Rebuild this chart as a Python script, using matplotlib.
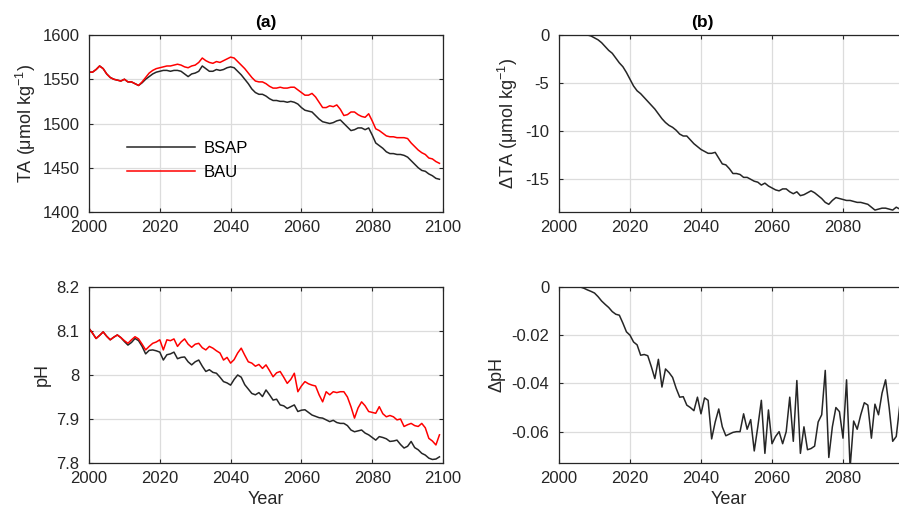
import numpy as np
import matplotlib
matplotlib.use("Agg")
import matplotlib.pyplot as plt
from matplotlib.ticker import FormatStrFormatter

plt.rcParams["font.family"] = ["Liberation Sans", "DejaVu Sans"]
plt.rcParams["mathtext.default"] = "regular"
plt.rcParams["axes.unicode_minus"] = False

# =================== data ===================
years = np.arange(2000, 2100)

ta_bau = [1558, 1558, 1561, 1565, 1562, 1556, 1552, 1550, 1549, 1548,
          1550, 1547, 1547, 1545, 1543, 1547, 1552, 1557, 1560, 1562,
          1563, 1564, 1565, 1565, 1566, 1567, 1566, 1564, 1563, 1565,
          1566, 1569, 1574, 1571, 1569, 1568, 1570, 1569, 1571, 1573,
          1575, 1574, 1570, 1566, 1562, 1557, 1552, 1548, 1547, 1547,
          1545, 1542, 1540, 1540, 1541, 1540, 1540, 1541, 1541, 1538,
          1535, 1532, 1532, 1534, 1530, 1524, 1518, 1518, 1520, 1519,
          1521, 1516, 1509, 1510, 1513, 1513, 1510, 1508, 1507, 1511,
          1503, 1494, 1492, 1489, 1486, 1485, 1485, 1484, 1484, 1484,
          1483, 1478, 1474, 1470, 1467, 1465, 1461, 1460, 1457, 1455]

ta_bsap = [1558, 1558, 1561, 1565, 1562, 1556, 1552, 1550, 1549, 1548,
           1550, 1547, 1547, 1545, 1543, 1546, 1550, 1553, 1556, 1558,
           1559, 1560, 1560, 1559, 1560, 1560, 1559, 1556, 1553, 1556,
           1557, 1559, 1565, 1562, 1559, 1559, 1561, 1560, 1561, 1563,
           1564, 1563, 1559, 1555, 1550, 1545, 1539, 1535, 1533, 1533,
           1531, 1528, 1526, 1526, 1525, 1525, 1524, 1525, 1524, 1522,
           1518, 1515, 1514, 1513, 1509, 1505, 1502, 1501, 1500, 1501,
           1503, 1504, 1500, 1496, 1492, 1493, 1495, 1495, 1493, 1495,
           1487, 1478, 1475, 1472, 1468, 1466, 1466, 1465, 1465, 1464,
           1462, 1458, 1454, 1450, 1447, 1446, 1443, 1441, 1438, 1437]

dta = [0, 0, 0, 0, 0, 0, 0, 0, 0, -0.1,
       -0.3, -0.5, -0.8, -1.2, -1.6, -1.9, -2.4, -2.9, -3.3, -3.9,
       -4.6, -5.3, -5.8, -6.1, -6.5, -6.9, -7.3, -7.7, -8.2, -8.7,
       -9.1, -9.4, -9.6, -9.9, -10.3, -10.5, -10.5, -10.9, -11.3, -11.6,
       -11.9, -12.1, -12.3, -12.3, -12.2, -12.8, -13.4, -13.5, -13.9, -14.4,
       -14.4, -14.5, -14.8, -14.8, -15.0, -15.2, -15.3, -15.6, -15.4, -15.7,
       -15.9, -16.1, -16.2, -16.0, -16.0, -16.3, -16.5, -16.3, -16.7, -16.6,
       -16.4, -16.2, -16.4, -16.7, -17.0, -17.4, -17.6, -17.2, -16.9, -17.0,
       -17.1, -17.2, -17.2, -17.3, -17.4, -17.4, -17.5, -17.6, -17.9, -18.2,
       -18.1, -18.0, -18.0, -18.1, -18.2, -17.9, -18.1, -18.2, -18.3, -18.3]

ph_bau = [8.106, 8.095, 8.083, 8.090, 8.098, 8.088, 8.080, 8.086, 8.091, 8.085,
          8.078, 8.072, 8.080, 8.087, 8.082, 8.070, 8.057, 8.065, 8.072, 8.075,
          8.080, 8.057, 8.080, 8.078, 8.082, 8.065, 8.075, 8.082, 8.070, 8.063,
          8.070, 8.072, 8.062, 8.057, 8.065, 8.061, 8.055, 8.050, 8.034, 8.040,
          8.027, 8.035, 8.050, 8.061, 8.045, 8.030, 8.027, 8.020, 8.024, 8.015,
          8.023, 8.010, 7.996, 8.005, 8.008, 7.995, 7.981, 7.990, 8.004, 7.962,
          7.975, 7.985, 7.980, 7.977, 7.975, 7.955, 7.939, 7.962, 7.955, 7.962,
          7.960, 7.962, 7.962, 7.950, 7.928, 7.902, 7.925, 7.939, 7.930, 7.917,
          7.915, 7.913, 7.928, 7.912, 7.905, 7.908, 7.905, 7.898, 7.900, 7.883,
          7.887, 7.890, 7.885, 7.883, 7.890, 7.880, 7.856, 7.850, 7.841, 7.864]

ph_bsap = [8.106, 8.095, 8.083, 8.090, 8.098, 8.088, 8.080, 8.086, 8.091, 8.085,
           8.076, 8.068, 8.074, 8.083, 8.078, 8.065, 8.048, 8.056, 8.057, 8.055,
           8.052, 8.034, 8.046, 8.048, 8.052, 8.037, 8.040, 8.041, 8.030, 8.023,
           8.030, 8.034, 8.020, 8.008, 8.012, 8.006, 8.004, 7.995, 7.985, 7.982,
           7.977, 7.990, 8.000, 7.995, 7.978, 7.968, 7.958, 7.955, 7.960, 7.951,
           7.966, 7.955, 7.943, 7.945, 7.932, 7.930, 7.924, 7.928, 7.932, 7.917,
           7.920, 7.921, 7.915, 7.909, 7.906, 7.903, 7.902, 7.898, 7.894, 7.897,
           7.892, 7.890, 7.890, 7.885, 7.875, 7.871, 7.873, 7.875, 7.868, 7.864,
           7.858, 7.852, 7.860, 7.858, 7.855, 7.849, 7.850, 7.852, 7.842, 7.834,
           7.838, 7.849, 7.835, 7.830, 7.822, 7.818, 7.811, 7.808, 7.809, 7.814]

dph = [0, 0, 0, 0, 0, 0, 0, -0.0005, -0.0012, -0.0018,
       -0.0025, -0.0040, -0.0058, -0.0072, -0.0085, -0.0102, -0.0113, -0.0117, -0.0150, -0.0186,
       -0.0200, -0.0228, -0.0240, -0.0283, -0.0280, -0.0285, -0.0330, -0.0380, -0.0300, -0.0415,
       -0.0340, -0.0355, -0.0375, -0.0420, -0.0457, -0.0455, -0.0490, -0.0500, -0.0513, -0.0457,
       -0.0526, -0.0460, -0.0470, -0.0630, -0.0560, -0.0506, -0.0580, -0.0617, -0.0610, -0.0603,
       -0.0600, -0.0600, -0.0526, -0.0590, -0.0550, -0.0680, -0.0580, -0.0470, -0.0690, -0.0510,
       -0.0650, -0.0620, -0.0600, -0.0650, -0.0600, -0.0457, -0.0640, -0.0388, -0.0690, -0.0580,
       -0.0675, -0.0670, -0.0660, -0.0560, -0.0530, -0.0346, -0.0707, -0.0580, -0.0500, -0.0517,
       -0.0627, -0.0385, -0.0750, -0.0556, -0.0590, -0.0530, -0.0480, -0.0490, -0.0627, -0.0486,
       -0.0530, -0.0440, -0.0385, -0.0500, -0.0640, -0.0620, -0.0490, -0.0520, -0.0560, -0.0500]

year_ticks = [2000, 2020, 2040, 2060, 2080, 2100]

# =================== figure ===================
fig = plt.figure(figsize=(8.99, 5.21), dpi=100)
W, H = 899, 521
TXT = "#262626"


def px_axes(left, top, right, bottom):
    # axes placed by pixel edges (origin at top-left)
    return fig.add_axes([left / W, 1 - bottom / H, (right - left) / W, (bottom - top) / H])


def style(ax, ticks):
    ax.set_xlim(2000, 2100)
    ax.set_xticks(ticks)
    ax.grid(True, color="#dcdcdc", linewidth=0.9)
    ax.set_axisbelow(True)
    ax.tick_params(direction="in", top=True, right=True, length=3,
                   labelsize=12, colors=TXT, width=0.8)
    ax.tick_params(axis="x", pad=6)
    ax.tick_params(axis="y", pad=7)
    for s in ax.spines.values():
        s.set_color(TXT)
        s.set_linewidth(0.9)


ax1 = px_axes(89, 35, 443, 212)
ax2 = px_axes(559, 35, 914, 212)
ax3 = px_axes(89, 287, 443, 463)
ax4 = px_axes(559, 287, 914, 463)

style(ax1, year_ticks)
style(ax3, year_ticks)
# right column runs off the canvas, its 2100 label is not shown
style(ax2, year_ticks[:-1])
style(ax4, year_ticks[:-1])

# (a) TA
ax1.plot(years, ta_bsap, color=TXT, lw=1.1, label="BSAP")
ax1.plot(years, ta_bau, color="#ff0000", lw=1.1, label="BAU")
ax1.set_ylim(1400, 1600)
ax1.set_yticks([1400, 1450, 1500, 1550, 1600])
ax1.set_ylabel("TA (μmol kg$^{-1}$)", fontsize=13, color=TXT, labelpad=3)
ax1.set_title("(a)", fontsize=12.5, fontweight="bold", pad=6)
ax1.legend(loc="center left", bbox_to_anchor=(0.065, 0.29), frameon=False,
           handlelength=4.1, fontsize=12, labelspacing=0.55, handletextpad=0.5)

# (b) delta TA
ax2.plot(years, dta, color=TXT, lw=1.1)
ax2.set_ylim(-18.4, 0)
ax2.set_yticks([-15, -10, -5, 0])
ax2.yaxis.set_major_formatter(FormatStrFormatter("%g"))
ax2.set_ylabel("ΔTA (μmol kg$^{-1}$)", fontsize=13, color=TXT, labelpad=4)
ax2.set_title("(b)", x=(702 - 559) / 355, fontsize=12.5, fontweight="bold", pad=6)

# (a) pH
ax3.plot(years, ph_bsap, color=TXT, lw=1.1)
ax3.plot(years, ph_bau, color="#ff0000", lw=1.1)
ax3.set_ylim(7.8, 8.2)
ax3.set_yticks([7.8, 7.9, 8.0, 8.1, 8.2])
ax3.yaxis.set_major_formatter(FormatStrFormatter("%g"))
ax3.set_ylabel("pH", fontsize=13, color=TXT, labelpad=4)
ax3.set_xlabel("Year", fontsize=13, color=TXT, labelpad=3)

# (b) delta pH
ax4.plot(years, dph, color=TXT, lw=1.1)
ax4.set_ylim(-0.073, 0)
ax4.set_yticks([-0.06, -0.04, -0.02, 0])
ax4.yaxis.set_major_formatter(FormatStrFormatter("%g"))
ax4.set_ylabel("ΔpH", fontsize=13, color=TXT, labelpad=4)
ax4.set_xlabel("Year", fontsize=13, color=TXT, labelpad=3)
ax4.xaxis.set_label_coords((729 - 559) / 355, -0.16)

fig.savefig("out.png", dpi=100)
plt.close(fig)
